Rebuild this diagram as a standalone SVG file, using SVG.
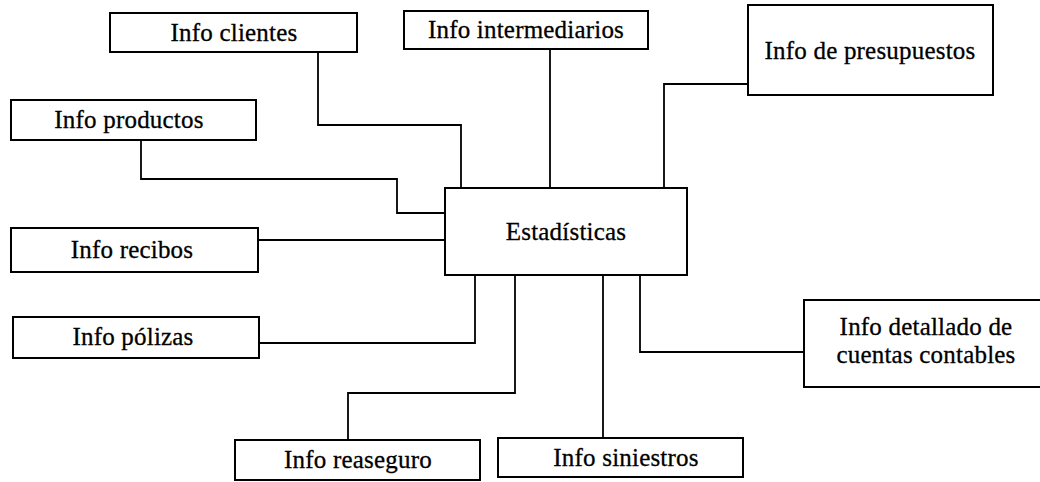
<svg xmlns="http://www.w3.org/2000/svg" width="1040" height="482" viewBox="0 0 1040 482">
  <style>
    .box { fill: #ffffff; stroke: #000000; stroke-width: 2; }
    .lbl { font-family: "Liberation Serif", "Times New Roman", serif; font-size: 25px; letter-spacing: 0.2px; fill: #000000; stroke: #000000; stroke-width: 0.3; text-anchor: middle; }
    .wire { fill: none; stroke: #000000; stroke-width: 1.8; }
  </style>
  <rect width="1040" height="482" fill="#ffffff"/>

  <!-- connectors: orthogonal links from each source box to the central box -->
  <g id="connectors">
    <polyline class="wire" points="318,52 318,125 461,125 461,188"/>
    <polyline class="wire" points="550,49 550,188"/>
    <polyline class="wire" points="748,84 664,84 664,188"/>
    <polyline class="wire" points="141,140 141,179 397,179 397,213 445,213"/>
    <polyline class="wire" points="258,240 445,240"/>
    <polyline class="wire" points="259,343 475,343 475,275"/>
    <polyline class="wire" points="348,440 348,393 515,393 515,275"/>
    <polyline class="wire" points="603,275 603,438"/>
    <polyline class="wire" points="804,352 640,352 640,275"/>
  </g>

  <g id="estadisticas">
    <rect class="box" x="445" y="188" width="242" height="87"/>
    <text class="lbl" x="566" y="240">Estadísticas</text>
  </g>

  <g id="info-clientes">
    <rect class="box" x="110" y="13" width="247" height="39"/>
    <text class="lbl" x="234" y="41">Info clientes</text>
  </g>

  <g id="info-intermediarios">
    <rect class="box" x="404" y="11" width="244" height="38"/>
    <text class="lbl" x="526" y="38">Info intermediarios</text>
  </g>

  <g id="info-presupuestos">
    <rect class="box" x="748" y="5" width="245" height="90"/>
    <text class="lbl" x="870" y="59">Info de presupuestos</text>
  </g>

  <g id="info-productos">
    <rect class="box" x="11" y="100" width="245" height="40"/>
    <text class="lbl" x="129" y="128">Info productos</text>
  </g>

  <g id="info-recibos">
    <rect class="box" x="11" y="228" width="247" height="44"/>
    <text class="lbl" x="132" y="258">Info recibos</text>
  </g>

  <g id="info-polizas">
    <rect class="box" x="13" y="317" width="246" height="41"/>
    <text class="lbl" x="133" y="345">Info pólizas</text>
  </g>

  <g id="info-reaseguro">
    <rect class="box" x="235" y="440" width="245" height="40"/>
    <text class="lbl" x="358" y="468">Info reaseguro</text>
  </g>

  <g id="info-siniestros">
    <rect class="box" x="498" y="438" width="245" height="39"/>
    <text class="lbl" x="626" y="466">Info siniestros</text>
  </g>

  <g id="info-detallado">
    <rect class="box" x="804" y="300" width="244" height="87"/>
    <text class="lbl" x="926" y="335">Info detallado de</text>
    <text class="lbl" x="926" y="363">cuentas contables</text>
  </g>
</svg>
